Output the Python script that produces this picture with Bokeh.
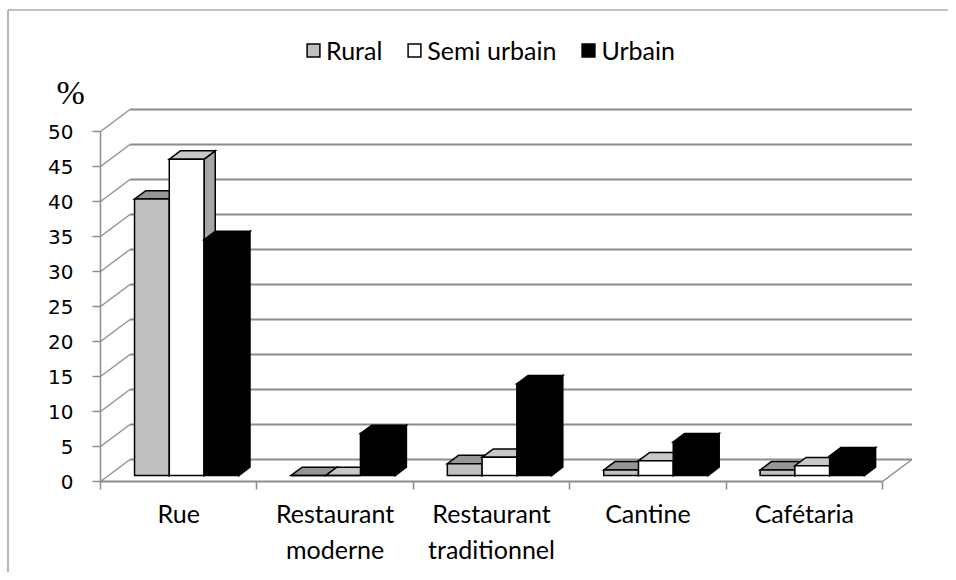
from bokeh.plotting import figure
from bokeh.models import FixedTicker, Range1d, Legend, LegendItem
from bokeh.embed import file_html
from bokeh.resources import INLINE
from bokeh.core.properties import value

# ---------------- data ----------------
categories = ["Rue", "Restaurant\nmoderne", "Restaurant\ntraditionnel", "Cantine", "Cafétaria"]
series_names = ["Rural", "Semi urbain", "Urbain"]
rural = [39.5, 0.0, 1.7, 0.8, 0.8]
semi_urbain = [45.2, 0.0, 2.6, 2.1, 1.4]
urbain = [33.7, 6.0, 13.1, 4.8, 2.8]
y_ticks = [0, 5, 10, 15, 20, 25, 30, 35, 40, 45, 50]
y_unit_label = "%"

# ---------------- geometry / styling ----------------
W, H = 948, 572
X0, Y0 = 100.0, 481.0   # screen position of the origin (front plane)
PX_CAT = 156.4          # pixels per category
PX_UNIT = 7.0           # pixels per value unit
DX = 29.5 / PX_CAT      # depth offset (data units)
DY = 22.0 / PX_UNIT
F0, F1 = 0.27, 0.65     # bar depth (fraction of floor depth)
BW = 1 / 4.5            # bar width (gap width 150%)
GAP = 0.75 * BW
GRID = "#8C8C8C"


def sx(px):
    return (px - X0) / PX_CAT


def sy(py):
    return (Y0 - py) / PX_UNIT


fills = [
    {"front": "#C0C0C0", "top": "#969696", "side": "#808080"},
    {"front": "#FFFFFF", "top": "#C8C8C8", "side": "#A6A6A6"},
    {"front": "#000000", "top": "#000000", "side": "#000000"},
]

p = figure(width=W, height=H, output_backend="svg", toolbar_location=None,
           x_range=Range1d(sx(0), sx(W)), y_range=Range1d(sy(H), sy(0)))
p.min_border_left = 0
p.min_border_right = 0
p.min_border_top = 0
p.min_border_bottom = 0
p.outline_line_color = None
p.xgrid.visible = False
p.ygrid.visible = False
p.background_fill_color = "white"
p.border_fill_color = "white"

ncat = len(categories)

# chart-area border (left and top edges)
p.segment(x0=[sx(7.5), sx(7.5)], y0=[sy(9.5), sy(9.5)], x1=[sx(7.5), sx(W + 5)], y1=[sy(H + 5), sy(9.5)],
          line_color="#888888", line_width=1.2)

# back wall grid lines and left wall diagonals
p.segment(x0=[DX] * len(y_ticks), y0=[v + DY for v in y_ticks],
          x1=[ncat + DX] * len(y_ticks), y1=[v + DY for v in y_ticks],
          line_color=GRID, line_width=2)
p.segment(x0=[0] * len(y_ticks), y0=y_ticks,
          x1=[DX] * len(y_ticks), y1=[v + DY for v in y_ticks],
          line_color=GRID, line_width=1.3)
# floor right edge
p.segment(x0=[ncat], y0=[0], x1=[ncat + DX], y1=[DY], line_color=GRID, line_width=1.5)

# ---------------- bars (3D faces) ----------------
legend_items = []
for j, (name, vals) in enumerate(zip(series_names, [rural, semi_urbain, urbain])):
    fx, fy, tx, ty, rx, ry = [], [], [], [], [], []
    ddx = (F1 - F0) * DX
    ddy = (F1 - F0) * DY
    for i, v in enumerate(vals):
        x0 = i + GAP + j * BW + F0 * DX
        y0 = F0 * DY
        x1 = x0 + BW
        fx.append([x0, x1, x1, x0]); fy.append([y0, y0, y0 + v, y0 + v])
        tx.append([x0, x1, x1 + ddx, x0 + ddx]); ty.append([y0 + v, y0 + v, y0 + v + ddy, y0 + v + ddy])
        rx.append([x1, x1 + ddx, x1 + ddx, x1]); ry.append([y0, y0 + ddy, y0 + v + ddy, y0 + v])
    kw = dict(line_color="black", line_width=1.5, line_join="miter")
    p.patches(rx, ry, fill_color=fills[j]["side"], **kw)
    p.patches(tx, ty, fill_color=fills[j]["top"], **kw)
    fr = p.patches(fx, fy, fill_color=fills[j]["front"], **kw)
    legend_items.append(LegendItem(label=name, renderers=[fr]))

# ---------------- axes (fixed at the front plane origin) ----------------
xa = p.xaxis[0]
xa.fixed_location = 0
xa.ticker = FixedTicker(ticks=[i + 0.5 for i in range(ncat)], minor_ticks=list(range(ncat + 1)))
xa.major_label_overrides = {i + 0.5: c for i, c in enumerate(categories)}
xa.bounds = (0, ncat)
xa.axis_line_color = GRID
xa.axis_line_width = 2
xa.major_tick_line_color = None
xa.major_tick_out = 0
xa.major_tick_in = 0
xa.minor_tick_line_color = GRID
xa.minor_tick_line_width = 1.5
xa.minor_tick_out = 8
xa.minor_tick_in = 0
xa.major_label_text_font = "Lato"
xa.major_label_text_font_size = "25px"
xa.major_label_text_color = "black"
xa.major_label_standoff = 8

ya = p.yaxis[0]
ya.fixed_location = 0
ya.ticker = FixedTicker(ticks=y_ticks)
ya.bounds = (0, 50)
ya.axis_line_color = GRID
ya.axis_line_width = 1.5
ya.major_tick_line_color = GRID
ya.major_tick_line_width = 1.5
ya.major_tick_out = 8
ya.major_tick_in = 0
ya.minor_tick_line_color = None
ya.major_label_text_font = "DejaVu Sans"
ya.major_label_text_font_size = "20px"
ya.major_label_text_color = "black"
ya.major_label_standoff = 19

# unit label
p.text(x=[sx(56)], y=[sy(92)], text=[y_unit_label], text_font=value("Liberation Serif"),
       text_font_size="34px", text_color="black", text_baseline="alphabetic", text_align="left")

legend = Legend(items=legend_items, orientation="horizontal", location=(305, H - 65),
                glyph_width=16, glyph_height=16, label_standoff=5, spacing=24,
                padding=0, margin=0, border_line_color=None, background_fill_alpha=0,
                label_text_font="Lato", label_text_font_size="25px", label_text_color="black")
p.add_layout(legend)

open("out.html", "w").write(file_html(p, INLINE))
